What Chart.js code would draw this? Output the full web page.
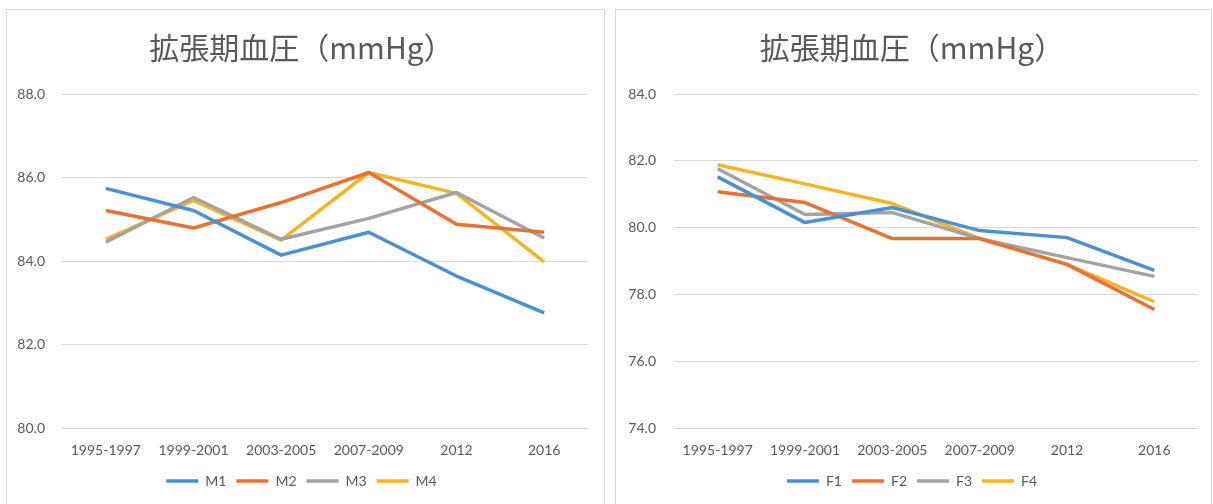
<!DOCTYPE html>
<html>
<head>
<meta charset="utf-8">
<script src="https://cdn.jsdelivr.net/npm/chart.js@4"></script>
<style>
  body { margin: 0; background: #ffffff; }
  .panel { position: absolute; border: 1px solid #d9d9d9; background: #fff; }
  canvas { position: absolute; left: 0; top: 0; }
</style>
</head>
<body>
<div class="panel" style="left:6px; top:9px; width:597px; height:500px;">
  <canvas id="chartMen" width="597" height="494"></canvas>
</div>
<div class="panel" style="left:615px; top:9px; width:595px; height:500px;">
  <canvas id="chartWomen" width="595" height="494"></canvas>
</div>
<script>
const years = ["1995-1997", "1999-2001", "2003-2005", "2007-2009", "2012", "2016"];
const titulo = "拡張期血圧（mmHg）";

const m1 = [85.74, 85.21, 84.14, 84.69, 83.64, 82.76];
const m2 = [85.21, 84.79, 85.40, 86.12, 84.88, 84.69];
const m3 = [84.45, 85.52, 84.52, 85.02, 85.64, 84.55];
const m4 = [84.52, 85.45, 84.50, 86.12, 85.62, 83.98];

const f1 = [81.52, 80.15, 80.60, 79.91, 79.70, 78.72];
const f2 = [81.07, 80.75, 79.67, 79.67, 78.90, 77.55];
const f3 = [81.76, 80.39, 80.45, 79.67, 79.10, 78.54];
const f4 = [81.88, 81.31, 80.72, 79.67, 78.90, 77.78];

const colores = ["#4a90d4", "#e97132", "#a3a3a3", "#f8b323"];
const textColor = "#595959";

function makeDatasets(labels, series) {
    return series.map((data, i) => {
        return {
            label: labels[i],
            data,
            borderColor: colores[i],
            backgroundColor: colores[i],
            borderWidth: 3.5,
            pointRadius: 0,
            pointStyle: "line",
            borderJoinStyle: "round",
            tension: 0
        };
    });
}

function renderGrafica(id, datasets, min, max, padLeft, yWidth, padRight, tickPad) {
    const config = {
        type: "line",
        data: { labels: years, datasets },
        options: {
            responsive: false,
            animation: false,
            layout: { padding: { left: padLeft, right: padRight, top: 0, bottom: 6 } },
            plugins: {
                title: {
                    display: true,
                    text: titulo,
                    color: textColor,
                    font: { family: "'Noto Sans CJK JP', 'Noto Sans'", size: 30, weight: "normal" },
                    padding: { top: 20, bottom: 28 }
                },
                legend: {
                    position: "bottom",
                    labels: {
                        usePointStyle: true,
                        pointStyleWidth: 32,
                        color: textColor,
                        font: { family: "Lato, 'Noto Sans'", size: 14 },
                        padding: 10
                    }
                },
                tooltip: { enabled: false }
            },
            scales: {
                x: {
                    offset: true,
                    grid: { display: false },
                    border: { display: false },
                    afterFit: (scale) => { scale.height = 36; },
                    ticks: { color: textColor, font: { family: "Lato, 'Noto Sans'", size: 14 }, padding: 6 }
                },
                y: {
                    min,
                    max,
                    afterFit: (scale) => { scale.width = yWidth; },
                    grid: { color: "#d9d9d9", lineWidth: 1, drawTicks: false },
                    border: { display: false },
                    ticks: {
                        stepSize: 2,
                        color: textColor,
                        font: { family: "Lato, 'Noto Sans'", size: 14 },
                        padding: tickPad,
                        callback: (v) => v.toFixed(1)
                    }
                }
            }
        }
    };
    new Chart(document.getElementById(id), config);
}

renderGrafica("chartMen", makeDatasets(["M1", "M2", "M3", "M4"], [m1, m2, m3, m4]), 80, 88, 8, 47, 16, 17);
renderGrafica("chartWomen", makeDatasets(["F1", "F2", "F3", "F4"], [f1, f2, f3, f4]), 74, 84, 10, 48, 13, 18);
</script>
</body>
</html>
